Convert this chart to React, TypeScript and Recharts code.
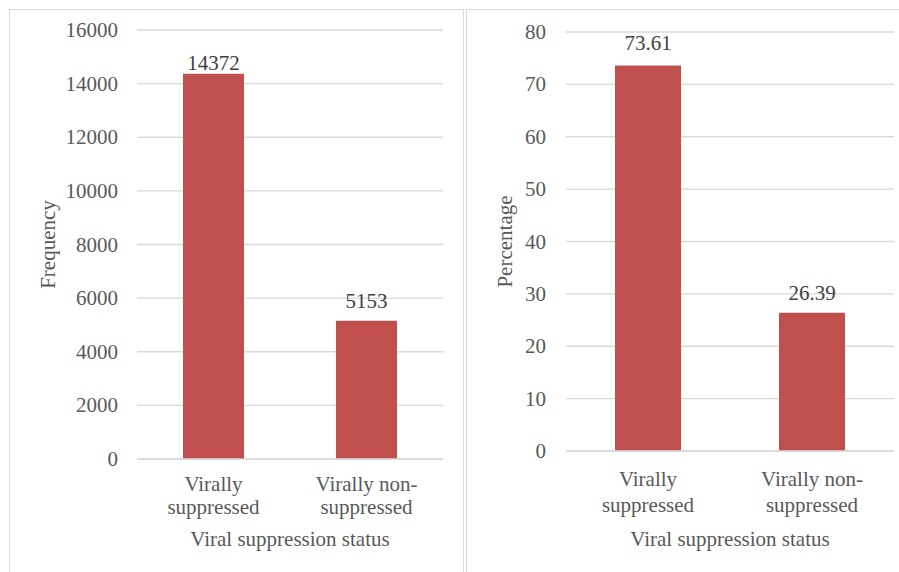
import React from 'react'
import { Bar, BarChart, CartesianGrid, LabelList, XAxis, YAxis } from 'recharts'

const categories = ['Virally suppressed', 'Virally non-suppressed']
const categoryLines = [['Virally', 'suppressed'], ['Virally non-', 'suppressed']]
const frequency = [14372, 5153]
const percentage = [73.61, 26.39]
const frequencyTicks = [0, 2000, 4000, 6000, 8000, 10000, 12000, 14000, 16000]
const percentageTicks = [0, 10, 20, 30, 40, 50, 60, 70, 80]

const FONT = '"Liberation Serif", Tinos, "Times New Roman", Times, "Noto Serif", "DejaVu Serif", FreeSerif, serif'
const BAR = '#C0504D'
const GRID = '#D9D9D9'
const TEXT = '#595959'
const LABEL = '#404040'

const freqData = categories.map((name, i) => ({ name, value: frequency[i] }))
const pctData = categories.map((name, i) => ({ name, value: percentage[i] }))

const textStyle = { fontFamily: FONT, fontSize: 21 }

const makeTick = (line1: number, line2: number) => (props: any) => {
  const { x, y, index } = props
  const lines = categoryLines[index] || []
  return (
    <g>
      <text x={ x } y={ y + line1 } textAnchor="middle" fill={ TEXT } style={ textStyle }>{ lines[0] }</text>
      <text x={ x } y={ y + line2 } textAnchor="middle" fill={ TEXT } style={ textStyle }>{ lines[1] }</text>
    </g>
  )
}

const makeValueLabel = (gaps: number[]) => (props: any) => {
  const { x, y, width, value, index } = props
  return (
    <text x={ x + width / 2 } y={ y - gaps[index] } textAnchor="middle" fill={ LABEL } style={ textStyle }>
      { value }
    </text>
  )
}

const makeXTitle = (text: string, dy: number) => (props: any) => {
  const { viewBox } = props
  return (
    <text x={ viewBox.x + viewBox.width / 2 } y={ viewBox.y + dy } textAnchor="middle" fill={ TEXT } style={ textStyle }>
      { text }
    </text>
  )
}

const makeYTitle = (text: string, bx: number) => (props: any) => {
  const { viewBox } = props
  const cy = viewBox.y + viewBox.height / 2
  return (
    <text x={ bx } y={ cy } transform={ `rotate(-90, ${ bx }, ${ cy })` } textAnchor="middle" fill={ TEXT } style={ textStyle }>
      { text }
    </text>
  )
}

const YTick = (props: any) => {
  const { x, y, payload } = props
  return (
    <text x={ x } y={ y } dy={ 7 } textAnchor="end" fill={ TEXT } style={ textStyle }>{ payload.value }</text>
  )
}

const App = () => {
  return (
    <div style={ { position: 'absolute', left: 0, top: 0, width: 899, height: 572, overflow: 'hidden', background: '#fff', fontFamily: FONT } }>
      <div style={ { position: 'absolute', left: 9, top: 9, width: 455, height: 620, border: `1px solid ${ GRID }`, boxSizing: 'border-box' } }/>
      <div style={ { position: 'absolute', left: 466, top: 9, width: 500, height: 620, border: `1px solid ${ GRID }`, boxSizing: 'border-box' } }/>

      <div style={ { position: 'absolute', left: 0, top: 0 } }>
        <BarChart width={ 463 } height={ 572 } data={ freqData } margin={ { top: 30, right: 20, bottom: 13, left: 0 } }>
          <CartesianGrid vertical={ false } stroke={ GRID } strokeWidth={ 1.3 }/>
          <XAxis dataKey="name" height={ 100 } axisLine={ { stroke: GRID, strokeWidth: 1.3 } } tickLine={ false } tickSize={ 0 } tickMargin={ 0 }
            interval={ 0 } tick={ makeTick(32, 55) } label={ { content: makeXTitle('Viral suppression status', 87) } }/>
          <YAxis width={ 137 } domain={ [0, 16000] } ticks={ frequencyTicks } axisLine={ false } tickLine={ false } tickSize={ 0 } tickMargin={ 19 }
            tick={ <YTick/> } label={ { content: makeYTitle('Frequency', 55) } }/>
          <Bar dataKey="value" fill={ BAR } barSize={ 61 } isAnimationActive={ false }>
            <LabelList dataKey="value" content={ makeValueLabel([4, 13]) }/>
          </Bar>
        </BarChart>
      </div>

      <div style={ { position: 'absolute', left: 466, top: 0 } }>
        <BarChart width={ 433 } height={ 572 } data={ pctData } margin={ { top: 32, right: 5, bottom: 21, left: 0 } }>
          <CartesianGrid vertical={ false } stroke={ GRID } strokeWidth={ 1.3 }/>
          <XAxis dataKey="name" height={ 100 } axisLine={ { stroke: GRID, strokeWidth: 1.3 } } tickLine={ false } tickSize={ 0 } tickMargin={ 0 }
            interval={ 0 } tick={ makeTick(35, 61) } label={ { content: makeXTitle('Viral suppression status', 95) } }/>
          <YAxis width={ 100 } domain={ [0, 80] } ticks={ percentageTicks } axisLine={ false } tickLine={ false } tickSize={ 0 } tickMargin={ 20 }
            tick={ <YTick/> } label={ { content: makeYTitle('Percentage', 46) } }/>
          <Bar dataKey="value" fill={ BAR } barSize={ 66 } isAnimationActive={ false }>
            <LabelList dataKey="value" content={ makeValueLabel([15, 13]) }/>
          </Bar>
        </BarChart>
      </div>
    </div>
  )
}

export default App
